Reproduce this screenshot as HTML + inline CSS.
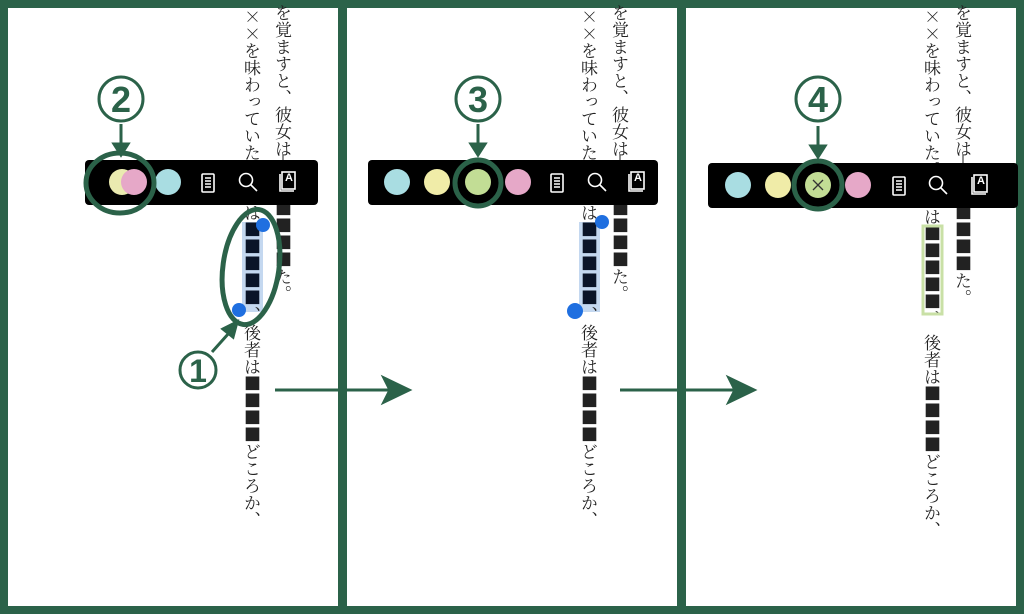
<!DOCTYPE html>
<html><head><meta charset="utf-8"><style>
*{margin:0;padding:0;box-sizing:border-box}
body{width:1024px;height:614px;background:#2b6249;position:relative;overflow:hidden;font-family:"Noto Serif CJK JP","Noto Serif CJK SC",serif}
.p{position:absolute;top:8px;height:598px;background:#fff}
.v{position:absolute;writing-mode:vertical-rl;font-family:"Noto Serif CJK JP","Noto Serif CJK SC",serif;font-size:17px;line-height:18px;color:#222;white-space:nowrap}
svg{position:absolute;left:0;top:0}
</style></head><body>
<div class="p" style="left:8px;width:330px"></div>
<div class="p" style="left:347px;width:330px"></div>
<div class="p" style="left:686px;width:330px"></div>

<svg width="1024" height="614" viewBox="0 0 1024 614">
<rect x="242" y="222" width="21" height="90" fill="#c4d8f0"/>
<rect x="579" y="222" width="21" height="90" fill="#c4d8f0"/>
</svg>

<div class="v" style="left:243px;top:8px">××を味わっていた。</div>
<div class="v" style="left:274px;top:4px">を覚ますと、彼女は</div>
<div class="v" style="left:243px;top:204px">は<span style="color:#0a1428">■■■■■</span>、</div>
<div class="v" style="left:243px;top:324px">後者は■■■■どころか、</div>
<div class="v" style="left:274px;top:200px">■■■■た。</div>

<div class="v" style="left:580px;top:8px">××を味わっていた。</div>
<div class="v" style="left:611px;top:4px">を覚ますと、彼女は</div>
<div class="v" style="left:580px;top:204px">は<span style="color:#0a1428">■■■■■</span>、</div>
<div class="v" style="left:580px;top:324px">後者は■■■■どころか、</div>
<div class="v" style="left:611px;top:200px">■■■■た。</div>

<div class="v" style="left:923px;top:8px">××を味わっていた。</div>
<div class="v" style="left:954px;top:4px">を覚ますと、彼女は</div>
<div class="v" style="left:923px;top:208px">は■■■■■、</div>
<div class="v" style="left:923px;top:334px">後者は■■■■どころか、</div>
<div class="v" style="left:954px;top:204px">■■■■た。</div>

<svg width="1024" height="614" viewBox="0 0 1024 614">
<g stroke="#222" stroke-width="1"><line x1="283" y1="155" x2="283" y2="162"/><line x1="620" y1="155" x2="620" y2="162"/><line x1="963" y1="155" x2="963" y2="165"/></g>
<rect x="923" y="226" width="19" height="88" fill="none" stroke="#c9e0a6" stroke-width="3"/>
<g fill="#1f6fe0"><circle cx="263" cy="225" r="7"/><circle cx="239" cy="310" r="7"/><circle cx="602" cy="222" r="7"/><circle cx="575" cy="311" r="8"/></g>

<rect x="85" y="160" width="233" height="45" rx="4" fill="#000"/>
<rect x="368" y="160" width="290" height="45" rx="4" fill="#000"/>
<rect x="708" y="163" width="310" height="45" rx="4" fill="#000"/>
<circle cx="122" cy="182" r="13" fill="#eaeab0"/><circle cx="134" cy="182" r="13" fill="#e6a8c8"/>
<circle cx="168" cy="182" r="13" fill="#a9dde2"/>
<circle cx="397" cy="182" r="13" fill="#a9dde2"/><circle cx="437" cy="182" r="13" fill="#f0eca8"/>
<circle cx="478" cy="182" r="13" fill="#c2dd95"/><circle cx="518" cy="182" r="13" fill="#e6a8c8"/>
<circle cx="738" cy="185" r="13" fill="#a9dde2"/><circle cx="778" cy="185" r="13" fill="#f0eca8"/>
<circle cx="818" cy="185" r="13" fill="#c2dd95"/><circle cx="858" cy="185" r="13" fill="#e6a8c8"/>
<path d="M813 180l10 10M823 180l-10 10" stroke="#333" stroke-width="1.3"/>
<g stroke="#fff" stroke-width="1.6" fill="none">
 <g transform="translate(208,183)"><rect x="-6" y="-9" width="12" height="18" rx="1"/><path d="M-3 -5h6M-3 -2h6M-3 1h6M-3 4h6"/></g>
 <g transform="translate(248,182)"><circle cx="-2" cy="-2" r="6.5"/><path d="M3 3l6 6"/></g>
 <g transform="translate(288,182)"><rect x="-6" y="-10" width="13" height="17"/><path d="M-8 -8v17h14"/></g>
 <g transform="translate(557,183)"><rect x="-6" y="-9" width="12" height="18" rx="1"/><path d="M-3 -5h6M-3 -2h6M-3 1h6M-3 4h6"/></g>
 <g transform="translate(597,182)"><circle cx="-2" cy="-2" r="6.5"/><path d="M3 3l6 6"/></g>
 <g transform="translate(637,182)"><rect x="-6" y="-10" width="13" height="17"/><path d="M-8 -8v17h14"/></g>
 <g transform="translate(899,186)"><rect x="-6" y="-9" width="12" height="18" rx="1"/><path d="M-3 -5h6M-3 -2h6M-3 1h6M-3 4h6"/></g>
 <g transform="translate(938,185)"><circle cx="-2" cy="-2" r="6.5"/><path d="M3 3l6 6"/></g>
 <g transform="translate(980,185)"><rect x="-6" y="-10" width="13" height="17"/><path d="M-8 -8v17h14"/></g>
</g>
<g font-family="Liberation Sans,sans-serif" font-weight="bold" font-size="11" fill="#fff" text-anchor="middle"><text x="289" y="181">A</text><text x="638" y="181">A</text><text x="981" y="184">A</text></g>

<g stroke="#2b6249" fill="none" stroke-width="5">
 <ellipse cx="120" cy="183" rx="34" ry="30"/>
 <ellipse cx="251" cy="267" rx="28" ry="58" transform="rotate(8 251 267)"/>
 <circle cx="478" cy="183" r="23"/>
 <circle cx="818" cy="185" r="24"/>
</g>
<g stroke="#2b6249" stroke-width="3" fill="#2b6249">
 <line x1="121" y1="124" x2="121" y2="146"/><path d="M114 144h14l-7 11z"/>
 <line x1="478" y1="124" x2="478" y2="146"/><path d="M471 144h14l-7 11z"/>
 <line x1="818" y1="126" x2="818" y2="148"/><path d="M811 146h14l-7 11z"/>
 <line x1="212" y1="352" x2="229" y2="333"/><path d="M223 329l14 -7l-4 15z"/>
 <line x1="275" y1="390" x2="390" y2="390"/><path d="M384 378l25 12l-25 12l6 -12z"/>
 <line x1="620" y1="390" x2="735" y2="390"/><path d="M729 378l25 12l-25 12l6 -12z"/>
</g>
<g stroke="#2b6249" stroke-width="3" fill="none">
 <circle cx="121" cy="99" r="22"/><circle cx="478" cy="99" r="22"/><circle cx="818" cy="99" r="22"/><circle cx="198" cy="370" r="18"/>
</g>
<g font-family="Liberation Sans,sans-serif" font-weight="bold" fill="#2b6249" text-anchor="middle">
 <text x="121" y="112" font-size="36">2</text><text x="478" y="112" font-size="36">3</text><text x="818" y="112" font-size="36">4</text>
 <text x="198" y="382" font-size="32">1</text>
</g>
</svg>
</body></html>
